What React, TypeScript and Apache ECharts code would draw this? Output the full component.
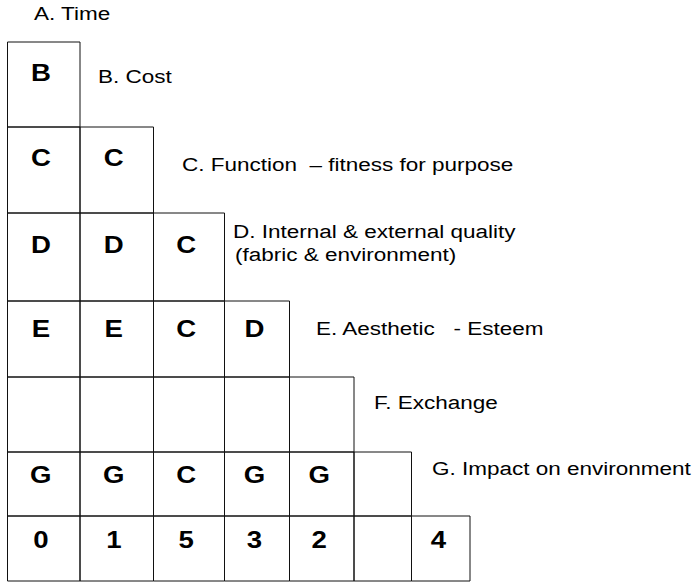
import React, { useEffect, useRef } from "react";
import * as echarts from "echarts";

// ---- data ----
const rowLetters: string[][] = [
  ["B"],
  ["C", "C"],
  ["D", "D", "C"],
  ["E", "E", "C", "D"],
  ["", "", "", "", ""],
  ["G", "G", "C", "G", "G", ""],
];
const scoreRow: string[] = ["0", "1", "5", "3", "2", "", "4"];
const factorLabels: string[] = [
  "A. Time",
  "B. Cost",
  "C. Function  \u2013 fitness for purpose",
  "D. Internal & external quality",
  "(fabric & environment)",
  "E. Aesthetic   - Esteem",
  "F. Exchange",
  "G. Impact on environment",
];

// ---- layout (axis units) ----
const colWidths = [72.5, 73.5, 71, 65, 64.5, 57.5, 58.5];
const rowHeights = [85, 86, 88, 76, 75, 64, 65];
const labelAnchors: [number, number][] = [
  [34, 14],
  [98, 76.5],
  [182, 164.5],
  [233, 232],
  [235, 255],
  [316, 329],
  [374, 403],
  [432, 469],
];

const FONT = '"Liberation Sans", Arial, Helvetica, sans-serif';
const SX = 1.25;

function edges(sizes: number[]) {
  const e = [0];
  sizes.forEach((s) => e.push(e[e.length - 1] + s));
  return e;
}

export default function App() {
  const ref = useRef<HTMLDivElement>(null);
  useEffect(() => {
    document.body.style.margin = "0";
    if (!ref.current) return;
    const chart = echarts.init(ref.current, null, { renderer: "svg" });
    const xE = edges(colWidths);
    const yE = edges(rowHeights);
    const cells: { c: number; r: number; t: string }[] = [];
    rowLetters.forEach((row, r) => row.forEach((t, c) => cells.push({ c, r, t })));
    scoreRow.forEach((t, c) => cells.push({ c, r: rowLetters.length, t }));

    const option: any = {
      animation: false,
      backgroundColor: "#ffffff",
      grid: { left: 7.5, top: 42, width: xE[xE.length - 1], height: yE[yE.length - 1] },
      xAxis: { type: "value", min: 0, max: xE[xE.length - 1], show: false },
      yAxis: { type: "value", min: 0, max: yE[yE.length - 1], inverse: true, show: false },
      series: [
        {
          type: "custom",
          silent: true,
          clip: false,
          data: cells.map((d) => [d.c, d.r]),
          renderItem: (params: any, api: any) => {
            const cell = cells[params.dataIndex];
            const p0 = api.coord([xE[cell.c], yE[cell.r]]);
            const p1 = api.coord([xE[cell.c + 1], yE[cell.r + 1]]);
            const w = p1[0] - p0[0];
            const h = p1[1] - p0[1];
            return {
              type: "group",
              children: [
                {
                  type: "rect",
                  shape: { x: p0[0], y: p0[1], width: w, height: h },
                  style: { fill: "rgba(0,0,0,0)", stroke: "#111111", lineWidth: 1 },
                },
                {
                  type: "text",
                  x: p0[0] + w * 0.46,
                  y: p0[1] + h * 0.36,
                  scaleX: 1.2,
                  style: {
                    text: cell.t,
                    fill: "#000000",
                    font: `bold 23px ${FONT}`,
                    align: "center",
                    verticalAlign: "middle",
                    textAlign: "center",
                    textVerticalAlign: "middle",
                  },
                },
              ],
            };
          },
        },
      ],
      graphic: factorLabels.map((t, i) => ({
        type: "text",
        x: labelAnchors[i][0],
        y: labelAnchors[i][1],
        scaleX: SX,
        silent: true,
        style: {
          text: t,
          fill: "#000000",
          font: `18px ${FONT}`,
          align: "left",
          verticalAlign: "middle",
          textAlign: "left",
          textVerticalAlign: "middle",
        },
      })),
    };
    chart.setOption(option);
    return () => chart.dispose();
  }, []);
  return <div ref={ref} style={{ width: 696, height: 583 }} />;
}
